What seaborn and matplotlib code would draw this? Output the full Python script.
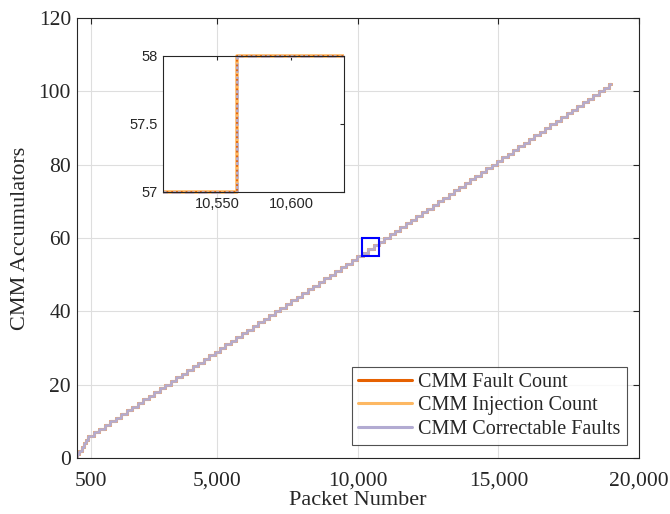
import numpy as np
import pandas as pd
import matplotlib
matplotlib.use("Agg")
import matplotlib.pyplot as plt
from matplotlib.patches import Rectangle
from matplotlib.ticker import FuncFormatter
import seaborn as sns

# Packet numbers where the accumulator increments (count after step = index + 1)
step_packets = [20, 100, 180, 260, 340, 420,
                615, 810, 1005, 1200, 1395, 1590, 1785, 1980, 2175, 2370,
                2565, 2760, 2955, 3150, 3345, 3540, 3735, 3930, 4125, 4320,
                4515, 4710, 4905, 5100, 5295, 5490, 5685, 5880, 6075, 6270,
                6465, 6660, 6855, 7050, 7245, 7440, 7635, 7830, 8025, 8220,
                8415, 8610, 8805, 9000, 9195, 9390, 9585, 9780, 9975, 10170,
                10365, 10563, 10754, 10944, 11135, 11325, 11516, 11707, 11897, 12088,
                12278, 12469, 12660, 12850, 13041, 13231, 13422, 13613, 13803, 13994,
                14184, 14375, 14566, 14756, 14947, 15137, 15328, 15519, 15709, 15900,
                16090, 16281, 16472, 16662, 16853, 17043, 17234, 17425, 17615, 17806,
                17996, 18187, 18378, 18568, 18759, 18950]
start_packet = 0
last_packet = 19000

series_names = ["CMM Fault Count", "CMM Injection Count", "CMM Correctable Faults"]
series_colors = ["#e66101", "#fdb863", "#b2abd2"]

x_ticks = [500, 5000, 10000, 15000, 20000]
y_ticks = [0, 20, 40, 60, 80, 100, 120]
inset_x_ticks = [10550, 10600]
inset_y_ticks = [57, 57.5, 58]

# build the step curve (same for all three counters)
packets = [start_packet] + step_packets + [last_packet]
counts = list(range(len(step_packets) + 1)) + [len(step_packets)]

rows = []
for name in series_names:
    for p, c in zip(packets, counts):
        rows.append((p, c, name))
df = pd.DataFrame(rows, columns=["packet", "count", "series"])

sns.set_style("white")
plt.rcParams["font.family"] = ["Liberation Serif", "DejaVu Serif"]
plt.rcParams["xtick.direction"] = "in"
plt.rcParams["ytick.direction"] = "in"

fig = plt.figure(figsize=(6.7, 5.14), dpi=100)
ax = fig.add_axes([0.1143, 0.1089, 0.8394, 0.856])

palette = dict(zip(series_names, series_colors))
widths = [2.2, 2.0, 1.8]
for name, lw in zip(series_names, widths):
    sub = df[df["series"] == name]
    sns.lineplot(data=sub, x="packet", y="count", color=palette[name], lw=lw,
                 drawstyle="steps-post", estimator=None, sort=False,
                 label=name, ax=ax)

ax.set_xlim(0, 20000)
ax.set_ylim(0, 120)
ax.set_xticks(x_ticks)
ax.set_yticks(y_ticks)
ax.xaxis.set_major_formatter(FuncFormatter(lambda v, _: f"{int(v):,}"))
ax.grid(True, color="#dedede", lw=0.8)
ax.tick_params(labelsize=15.5, top=True, right=True, length=4, color="#262626", pad=4)
ax.tick_params(axis="x", pad=10)
for s in ax.spines.values():
    s.set_color("#262626")
    s.set_linewidth(0.8)
ax.set_xlabel("Packet Number", fontsize=16, labelpad=0)
ax.set_ylabel("CMM Accumulators", fontsize=16, labelpad=6)

ax.add_patch(Rectangle((10150, 55), 600, 5, fill=False, edgecolor="#0000ff", lw=1.5, zorder=5))

leg = ax.legend(loc="lower right", fontsize=14.5, frameon=True, fancybox=False,
                edgecolor="#262626", borderpad=0.3, labelspacing=0.22,
                handlelength=2.7, handletextpad=0.3, borderaxespad=0,
                bbox_to_anchor=(0.978, 0.03))
leg.get_frame().set_linewidth(0.8)
for line in leg.get_lines():
    line.set_linewidth(2.2)

# inset zoom
axin = fig.add_axes([0.2433, 0.6265, 0.270, 0.2646])
inset_styles = [(":", 1.3), ("-", 2.6), ("--", 1.8)]
order = [1, 2, 0]
clip = Rectangle((0, -0.03), 1, 1.06, transform=axin.transAxes)
for i in order:
    name = series_names[i]
    ls, lw = inset_styles[i]
    sub = df[df["series"] == name]
    sns.lineplot(data=sub, x="packet", y="count", color=palette[name], lw=lw,
                 linestyle=ls, drawstyle="steps-post", estimator=None, sort=False,
                 legend=False, ax=axin)
for line in axin.get_lines():
    line.set_clip_path(clip)
axin.set_xlim(10513, 10636)
axin.set_ylim(57, 58)
axin.set_xticks(inset_x_ticks)
axin.set_yticks(inset_y_ticks)
axin.set_yticklabels(["57", "57.5", "58"])
axin.xaxis.set_major_formatter(FuncFormatter(lambda v, _: f"{int(v):,}"))
axin.set_xlabel("")
axin.set_ylabel("")
axin.set_facecolor("white")
axin.tick_params(labelsize=10.5, top=True, right=True, length=3, color="#262626")
for lab in axin.get_xticklabels() + axin.get_yticklabels():
    lab.set_family(["Liberation Sans", "DejaVu Sans"])
for s in axin.spines.values():
    s.set_color("#262626")
    s.set_linewidth(0.8)

fig.savefig("out.png", dpi=100)
